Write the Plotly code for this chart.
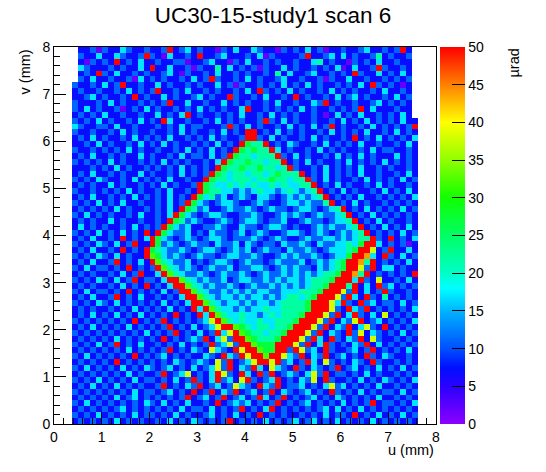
import plotly.graph_objects as go

TITLE = "UC30-15-study1 scan 6"
X_LABEL = "u (mm)"
Y_LABEL = "v (mm)"
Z_LABEL = "µrad"

# bin grid: 64 x 64 bins of 0.125 mm, u and v from 0 to 8 mm
BIN_W = 0.125
# one character per bin, '.' = no data; groups of 8 bins = 1 mm
# digit -> angle (µrad) read off the colour of the bin
LEVELS = [2, 7, 11, 17, 22, 27, 32, 38, 44, 55]

# rows from top (v = 8) to bottom (v = 0)
ROWS = [
    "....1120 21132112 11291231 21102131 13211021 21312011 21123112 1291....",
    "....2113 11321129 21031121 91123111 21302111 12911231 31211241 2112....",
    "....1021 21912131 12112201 12311021 31121211 21134121 10212131 1211....",
    "....3211 12121131 91131120 21141312 12021131 21121213 01311292 1121....",
    "....1219 21311212 11231021 12131121 21121413 11231121 21921131 2131....",
    "....2131 12112031 21211213 12921121 31211231 12112021 13112112 1212....",
    "...21121 31291121 13121121 21131202 11212131 21312112 12131921 2101....",
    "...12112 11213121 29112131 12121121 31921213 12112131 21211213 1121....",
    "...11231 21121912 11312112 31211921 12131121 91211213 12312112 1312....",
    "...21112 13121121 21291131 12113121 21121311 21132912 11211231 2121....",
    "...21312 11201213 12112121 31212113 91121212 13121121 21291311 1211....",
    "...12121 31121121 13121391 21121213 11213121 21121013 12131121 2131....",
    "...21213 12112131 21931121 12131212 11292131 21121121 31213121 21311...",
    "...32112 21311211 12121312 21112921 31211213 12131291 21121312 12129...",
    "...21121 12131211 21121312 11213121 99121312 12112131 21213112 13121...",
    "...12131 21121312 12131121 21312112 99213121 12131211 21912131 21213...",
    "...11213 12112131 21312112 12131219 54491213 21121312 12131121 12131...",
    "...21121 21213121 12112131 21312195 45449312 11213121 21121312 21121...",
    "...12131 12121131 21121312 21312954 43444921 31211213 12131211 13121...",
    "...21212 13121121 21312121 12139544 54434491 21312112 13121213 12121...",
    "...11121 21312112 12121312 12195445 44544349 21121312 12131121 21121...",
    "...12131 12121131 21121312 12954344 34434544 49121312 12131121 12131...",
    "...21213 21121312 12131121 19544344 43445443 44921312 11213121 21312...",
    "...12121 13121121 21312112 95433434 34334343 34491213 12112131 21121...",
    "...21121 21213121 12131121 95443323 23433234 32349121 31211213 12131...",
    "...12131 12121312 12131219 53423123 21332123 23234912 12131121 21213...",
    "...21213 12131121 12131295 32123321 12321123 32322491 21312112 12121...",
    "...12121 21312112 12131954 23112322 32123221 23321234 91213121 21312...",
    "...21312 12112131 12139532 12332112 23211232 32123223 49121312 12121...",
    "...12121 13121121 12195423 21123212 33212231 12322123 34912131 21121...",
    "...13121 21121312 12953231 12232113 22123321 21123232 23491213 12131...",
    "...21213 12131219 19532231 21322123 12321123 32123212 32349121 21312...",
    "...12131 12191213 95321232 12332122 23212321 12322332 32344921 91213...",
    "...21213 21312911 95232123 22132231 32122132 23213223 34359931 21201...",
    "...12131 12191219 54322321 23321232 31232213 22321233 34599712 91131...",
    "...21213 21312119 65323212 32212332 23211232 32232123 35998319 21312...",
    "...12131 12912131 96432231 21233212 32212322 23123234 59984912 12131...",
    "...21312 21219121 29643232 12322312 23321232 32213234 59972913 31211...",
    "...12121 12131291 13964322 32123223 21232232 32323445 99849121 21219...",
    "...21213 21312912 21399643 23223123 32232323 32344459 99392171 12131...",
    "...12121 12131219 12139964 32322321 23223232 32344599 94913192 31212...",
    "...21312 21219121 21312996 43223232 32332233 34445999 72913129 21121...",
    "...12131 12912131 12121399 64323323 23323234 43459997 29319214 12121...",
    "...21213 21312121 21312139 96432332 32332344 44599973 92192312 21312...",
    "...12121 12121312 12131219 39643323 23343344 44599972 19329121 21213...",
    "...12131 21312131 21219121 93964334 33234344 45999729 13921317 12121...",
    "...21212 12121912 12912121 23796434 33433444 59997291 32791231 21213...",
    "...12131 21213121 21291213 12379965 43443445 99972913 29137219 12121...",
    "...21212 12121213 12129121 31293796 54434459 99729132 19271321 21312...",
    "...12121 21312121 21912123 29137299 65444599 97293192 13291721 12121...",
    "...21213 12912131 12121312 12923729 96555999 72913921 21329131 21212...",
    "...12121 21213121 21291213 21732197 99655992 97231921 12312912 12131...",
    "...21312 12121912 12312121 13219329 79969973 29132912 31219213 21121...",
    "...12121 21912121 21213212 32172912 37997923 12931721 21321921 12121...",
    "...21312 12131213 21231213 12372913 29317321 92132129 12312131 21312...",
    "...12121 21213121 12912371 21397219 31929123 21372912 21213121 12121...",
    "...21213 12121312 21213129 21392317 92123912 13271921 12131213 21213...",
    "...12131 21312121 12912132 91231273 21932912 23121372 31212131 12121...",
    "...21212 12121312 21231219 12913291 23129132 12312192 12131212 21312...",
    "...12121 21312312 12121291 23129123 12931291 21231213 21212131 12121...",
    "...21312 12121213 21312131 12191232 31212912 12312121 31212912 21213...",
    "...12121 21231212 12121312 21312129 12139121 21212313 12131212 12121...",
    "...21213 12121312 21213121 12312131 21912121 12121312 21912131 21312...",
    "...12121 21312121 12131213 21212912 12131212 31231213 12121312 12121...",
]

z = []
for k, row in enumerate(ROWS[::-1]):
    cells = row.replace(" ", "")
    if len(cells) != 64:
        raise ValueError(f"row {k} has {len(cells)} bins")
    z.append([None if ch == "." else LEVELS[int(ch)] for ch in cells])

palette = [
    [0.00, "#8c00ff"],
    [0.10, "#2a00ff"],
    [0.15, "#0010ff"],
    [0.20, "#0050ff"],
    [0.30, "#00b4ff"],
    [0.36, "#00ffff"],
    [0.40, "#00ffc8"],
    [0.50, "#00ff64"],
    [0.60, "#10ff00"],
    [0.70, "#90ff00"],
    [0.80, "#ffff00"],
    [0.90, "#ff8000"],
    [1.00, "#ff0000"],
]

fig = go.Figure(
    go.Heatmap(
        z=z,
        x0=BIN_W / 2,
        dx=BIN_W,
        y0=BIN_W / 2,
        dy=BIN_W,
        zmin=0,
        zmax=50,
        colorscale=palette,
        hoverinfo="skip",
        colorbar=dict(
            x=1.0105,
            xanchor="left",
            xpad=0,
            ypad=0,
            y=0.5,
            yanchor="middle",
            len=1,
            lenmode="fraction",
            thickness=25,
            outlinewidth=0,
            ticks="inside",
            ticklen=13,
            tickcolor="black",
            tickwidth=1,
            dtick=5,
            tick0=0,
            tickfont=dict(size=14, color="black"),
        ),
    )
)

axis_style = dict(
    range=[0, 8],
    dtick=1,
    tick0=0,
    ticks="inside",
    ticklen=12,
    tickcolor="black",
    tickwidth=1,
    minor=dict(dtick=0.2, tick0=0, ticks="inside", ticklen=6, tickcolor="black", showgrid=False),
    showgrid=False,
    zeroline=False,
    showline=True,
    mirror=True,
    linecolor="black",
    linewidth=1,
    tickfont=dict(size=14, color="black"),
)
fig.update_xaxes(**axis_style)
fig.update_yaxes(**axis_style)

fig.add_annotation(text=X_LABEL, xref="paper", yref="paper", x=1, y=-0.069,
                   xanchor="right", yanchor="middle", showarrow=False,
                   font=dict(size=14.5, color="black"))
fig.add_annotation(text=Y_LABEL, xref="paper", yref="paper", x=-0.076, y=1,
                   xanchor="center", yanchor="top", textangle=-90, showarrow=False,
                   font=dict(size=14.5, color="black"))
fig.add_annotation(text=Z_LABEL, xref="paper", yref="paper", x=1.2016, y=1,
                   xanchor="center", yanchor="top", textangle=-90, showarrow=False,
                   font=dict(size=14.5, color="black"))

fig.update_layout(
    width=546,
    height=472,
    margin=dict(l=54, r=110, t=47, b=48),
    paper_bgcolor="white",
    plot_bgcolor="white",
    font=dict(family="Liberation Sans, Arial, sans-serif", color="black"),
    title=dict(text=TITLE, x=0.5, xanchor="center", y=0.968, yanchor="middle",
               font=dict(size=22.5, color="black")),
)
# page body has an 8 px default margin; drop it so the figure sits at the window corner
fig.write_html(
    "out.html",
    config={"displayModeBar": False},
    post_script="document.body.style.margin = '0';",
)
